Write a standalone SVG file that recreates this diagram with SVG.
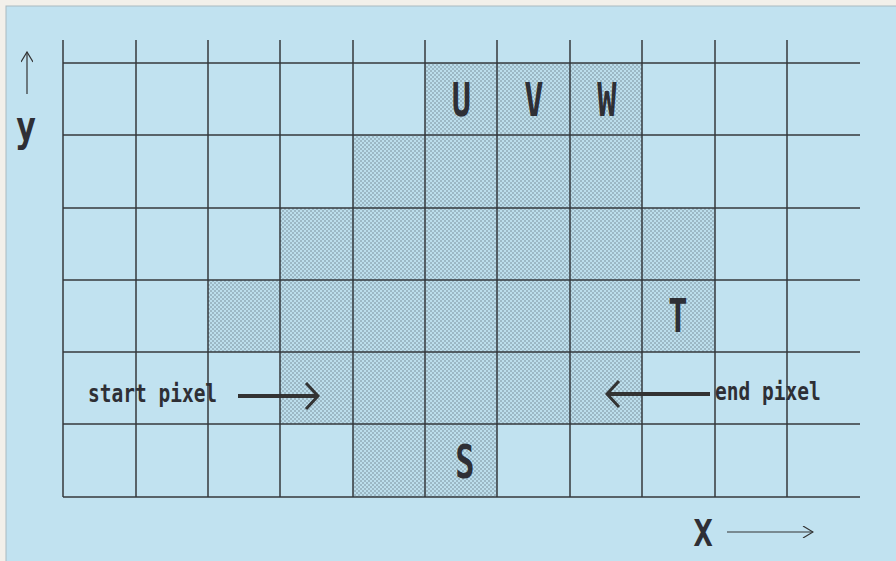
<svg xmlns="http://www.w3.org/2000/svg" width="896" height="561" viewBox="0 0 896 561">
<defs>
<pattern id="dots" width="4" height="4" patternUnits="userSpaceOnUse">
<rect width="4" height="4" fill="#bcdeec"/>
<rect x="0.5" y="0.5" width="1" height="1" fill="#3b4650"/>
<rect x="2.5" y="2.5" width="1" height="1" fill="#3b4650"/>
</pattern>
<marker id="open" viewBox="0 0 12 12" refX="11" refY="6" markerWidth="12" markerHeight="12" markerUnits="userSpaceOnUse" orient="auto">
<path d="M1,0 L11,6 L1,12" fill="none" stroke="#333" stroke-width="1.2"/>
</marker>
<marker id="bold" viewBox="0 0 20 30" refX="18" refY="15" markerWidth="20" markerHeight="30" markerUnits="userSpaceOnUse" orient="auto">
<path d="M6,2 L18,15 L6,28" fill="none" stroke="#333" stroke-width="3"/>
</marker>
</defs>
<style>
.grid line{stroke:#35393d;stroke-width:1.5}
.cell{fill:url(#dots)}
.lbl{font-family:"DejaVu Sans Mono","Liberation Mono",monospace;font-weight:bold;fill:#2e2f35;font-size:19.5px}
.big{font-family:"DejaVu Sans Mono","Liberation Mono",monospace;font-weight:bold;fill:#2e2f35;font-size:40px}
</style>
<rect width="896" height="561" fill="#f2f0ea"/>
<rect x="6" y="6" width="892" height="557" fill="#c1e2f0" stroke="#a9b9bf" stroke-width="1"/>
<g id="shaded">
<rect class="cell" x="425" y="63" width="217" height="72"/>
<rect class="cell" x="353" y="135" width="289" height="73"/>
<rect class="cell" x="280" y="208" width="435" height="72"/>
<rect class="cell" x="208" y="280" width="507" height="72"/>
<rect class="cell" x="280" y="352" width="362" height="72"/>
<rect class="cell" x="353" y="424" width="144" height="73"/>
</g>
<g id="grid" class="grid">
<line x1="63" y1="40" x2="63" y2="497"/>
<line x1="136" y1="40" x2="136" y2="497"/>
<line x1="208" y1="40" x2="208" y2="497"/>
<line x1="280" y1="40" x2="280" y2="497"/>
<line x1="353" y1="40" x2="353" y2="497"/>
<line x1="425" y1="40" x2="425" y2="497"/>
<line x1="497" y1="40" x2="497" y2="497"/>
<line x1="570" y1="40" x2="570" y2="497"/>
<line x1="642" y1="40" x2="642" y2="497"/>
<line x1="715" y1="40" x2="715" y2="497"/>
<line x1="787" y1="40" x2="787" y2="497"/>
<line x1="63" y1="63" x2="860" y2="63"/>
<line x1="63" y1="135" x2="860" y2="135"/>
<line x1="63" y1="208" x2="860" y2="208"/>
<line x1="63" y1="280" x2="860" y2="280"/>
<line x1="63" y1="352" x2="860" y2="352"/>
<line x1="63" y1="424" x2="860" y2="424"/>
<line x1="63" y1="497" x2="860" y2="497"/>
</g>
<g id="letters">
<text class="big" transform="translate(461.5,116) scale(0.8,1.15)" text-anchor="middle">U</text>
<text class="big" transform="translate(534,116) scale(0.8,1.15)" text-anchor="middle">V</text>
<text class="big" transform="translate(607,116) scale(0.8,1.15)" text-anchor="middle">W</text>
<text class="big" transform="translate(678,332) scale(0.8,1.15)" text-anchor="middle">T</text>
<text class="big" transform="translate(465,478) scale(0.8,1.15)" text-anchor="middle">S</text>
</g>
<g id="axes">
<text class="big" transform="translate(26,141) scale(0.85,1.05)" text-anchor="middle">y</text>
<text class="big" transform="translate(703,546) scale(0.8,0.95)" text-anchor="middle">X</text>
</g>
<g id="labels">
<text class="lbl" transform="translate(88,402) scale(1,1.3)">start pixel</text>
<text class="lbl" transform="translate(715,400) scale(1,1.3)">end pixel</text>
</g>
<g id="connectors">
<line x1="27" y1="94" x2="27" y2="52" stroke="#333" stroke-width="1.2" marker-end="url(#open)"/>
<line x1="727" y1="532" x2="813" y2="532" stroke="#333" stroke-width="1.2" marker-end="url(#open)"/>
<line x1="238" y1="396" x2="318" y2="396" stroke="#333" stroke-width="4" marker-end="url(#bold)"/>
<line x1="710" y1="394" x2="607" y2="394" stroke="#333" stroke-width="4" marker-end="url(#bold)"/>
</g>
</svg>
